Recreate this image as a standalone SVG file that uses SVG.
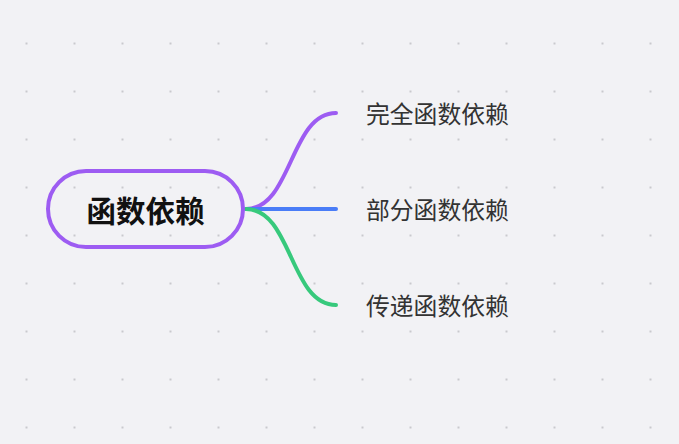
<svg xmlns="http://www.w3.org/2000/svg" width="679" height="444" viewBox="0 0 679 444">
<defs>
<pattern id="dots" x="0" y="0" width="48" height="48" patternUnits="userSpaceOnUse">
<rect x="25.5" y="42.5" width="2" height="2" fill="#c9c9ce"/>
</pattern>
<style>
.lbl{font-family:"Noto Sans CJK SC","Liberation Sans",sans-serif;font-size:23.8px;fill:#333333;dominant-baseline:central}
.main{font-family:"Noto Sans CJK SC","Liberation Sans",sans-serif;font-size:29.5px;font-weight:bold;fill:#111111;dominant-baseline:central;text-anchor:middle}
.conn{fill:none;stroke-width:4;stroke-linecap:round}
</style>
</defs>
<rect width="679" height="444" fill="#f2f2f5"/>
<rect width="679" height="444" fill="url(#dots)"/>
<g id="connectors">
<path class="conn" stroke="#9d5cf2" d="M246,209 C292,209 290,113 336,113"/>
<path class="conn" stroke="#4a7df7" d="M246,209 L336,209"/>
<path class="conn" stroke="#37c97c" d="M246,209 C292,209 290,305 336,305"/>
</g>
<g id="root">
<rect x="48" y="171" width="195" height="76" rx="38" fill="none" stroke="#9d5cf2" stroke-width="4"/>
<text class="main" x="145.5" y="209">函数依赖</text>
</g>
<g id="n1"><text class="lbl" x="366" y="112">完全函数依赖</text></g>
<g id="n2"><text class="lbl" x="366" y="208">部分函数依赖</text></g>
<g id="n3"><text class="lbl" x="366" y="304">传递函数依赖</text></g>
</svg>
